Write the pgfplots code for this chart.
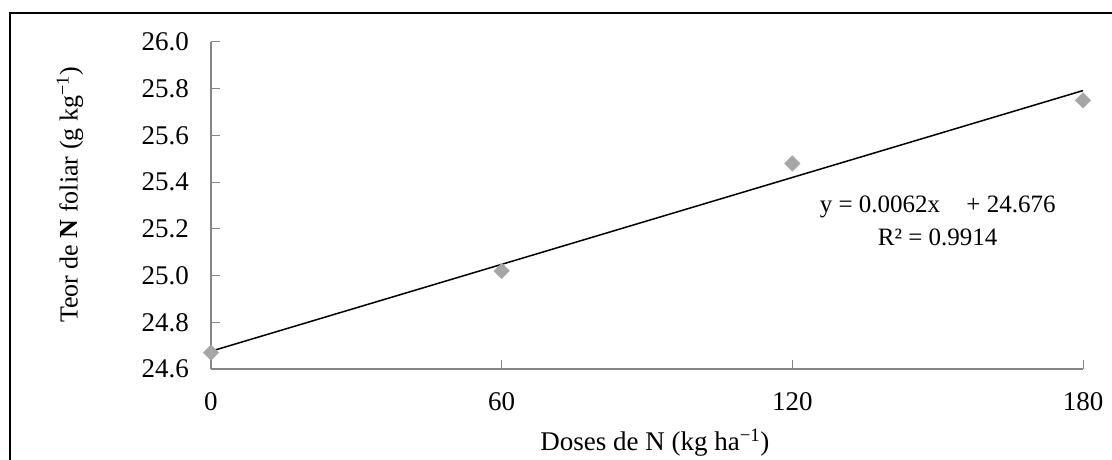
\documentclass[border=0pt]{standalone}
\usepackage{pgfplots}
\pgfplotsset{compat=1.18}
\usepackage{fontspec}
\setmainfont{Liberation Serif}

\definecolor{axisgray}{HTML}{868686}
\definecolor{markgray}{HTML}{A6A6A6}

\begin{document}
\begin{tikzpicture}
\begin{axis}[
    scale only axis,
    width=872pt, height=327pt,
    xmin=0, xmax=180,
    ymin=24.6, ymax=26.0,
    xtick={0,60,120,180},
    ytick={24.6,24.8,25.0,25.2,25.4,25.6,25.8,26.0},
    axis x line*=bottom,
    axis y line*=left,
    axis line style={-, axisgray, line width=1.2pt},
    tick style={axisgray, line width=1pt},
    tick align=inside,
    major tick length=9pt,
    clip=false,
    /pgf/number format/assume math mode=true,
    yticklabel={\pgfmathprintnumber[fixed,fixed zerofill,precision=1]{\tick}},
    tick label style={font=\fontsize{27}{32}\selectfont, text=black},
    yticklabel style={anchor=east, inner sep=0pt, xshift=-22pt},
    xticklabel style={anchor=north, inner sep=0pt, yshift=-23pt},
    every axis y label/.style={at={(axis description cs:-0.1617,0.532)},
        rotate=90, anchor=center, font=\fontsize{26}{31}\selectfont},
    every axis x label/.style={at={(axis description cs:0.509,-0.226)},
        anchor=center, font=\fontsize{27}{32}\selectfont},
    ylabel={Teor de \textbf{N} foliar (g kg\textsuperscript{\char"2212 1})},
    xlabel={Doses de N (kg ha\textsuperscript{\char"2212 1})},
]
% observed means
\addplot[only marks, mark=square*, mark size=5.5pt, color=markgray,
    every mark/.append style={rotate=45}]
    coordinates {(0,24.67) (60,25.02) (120,25.48) (180,25.75)};
% linear trend
\addplot[black, line width=1.5pt] coordinates {(0,24.676) (180,25.792)};
\node[align=center, font=\fontsize{25}{33}\selectfont]
    at (axis cs:150,25.235)
    {y = 0.0062x\hspace{0.8em} + 24.676\\R² = 0.9914};
\end{axis}
\path[use as bounding box] (-211pt,-85pt) rectangle (901pt,369pt);
\draw[line width=2pt] (-201pt,-100pt) -- (-201pt,356pt) -- (920pt,356pt);
\end{tikzpicture}
\end{document}
